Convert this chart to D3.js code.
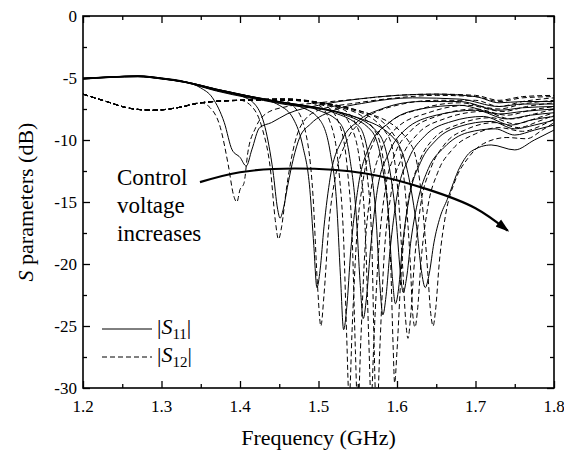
<!DOCTYPE html>
<html>
<head>
<meta charset="utf-8">
<script src="https://cdn.jsdelivr.net/npm/d3@7"></script>
</head>
<body style="margin:0; background:#fff">
<script>
const freq_ticks = [1.2, 1.3, 1.4, 1.5, 1.6, 1.7, 1.8];
const freq_minor = [1.25, 1.35, 1.45, 1.55, 1.65, 1.75];
const db_ticks = [-30, -25, -20, -15, -10, -5, 0];
const db_minor = [-27.5, -22.5, -17.5, -12.5, -7.5, -2.5];

// |S11| curves (solid), one per control voltage
const s11_curves = [
    [[1.20,-5.0],[1.24,-4.9],[1.27,-4.82],[1.30,-5.0],[1.33,-5.3],[1.35,-5.8],[1.365,-6.6],[1.38,-8.6],[1.39,-10.8],[1.40,-11.4],[1.408,-12.1],[1.415,-10.8],[1.425,-9.0],[1.44,-8.6],[1.46,-7.9],[1.50,-7.2],[1.55,-6.7],[1.60,-6.4],[1.65,-6.3],[1.70,-6.5],[1.73,-7.0],[1.76,-6.9],[1.80,-6.9]],
    [[1.20,-5.02],[1.24,-4.9],[1.27,-4.83],[1.30,-5.0],[1.33,-5.3],[1.37,-5.9],[1.40,-6.4],[1.42,-7.2],[1.432,-9.0],[1.442,-12.5],[1.448,-15.6],[1.451,-16.3],[1.455,-15.6],[1.461,-13.6],[1.468,-11.5],[1.476,-9.8],[1.49,-8.7],[1.52,-7.6],[1.56,-7.0],[1.62,-6.6],[1.68,-6.7],[1.73,-7.3],[1.76,-7.1],[1.80,-7.1]],
    [[1.20,-5.03],[1.27,-4.84],[1.30,-5.02],[1.33,-5.3],[1.37,-5.9],[1.42,-6.6],[1.45,-7.2],[1.468,-8.3],[1.48,-10.5],[1.489,-14.0],[1.494,-18.5],[1.498,-21.9],[1.502,-20.5],[1.507,-17.0],[1.515,-13.0],[1.53,-10.0],[1.55,-8.5],[1.58,-7.5],[1.63,-6.9],[1.68,-6.9],[1.73,-7.6],[1.76,-7.4],[1.80,-7.3]],
    [[1.20,-5.04],[1.27,-4.85],[1.30,-5.03],[1.33,-5.3],[1.37,-5.9],[1.43,-6.7],[1.48,-7.4],[1.503,-8.5],[1.515,-11.0],[1.523,-15.0],[1.528,-21.0],[1.532,-25.3],[1.536,-23.5],[1.541,-19.0],[1.55,-14.0],[1.565,-10.5],[1.59,-8.6],[1.63,-7.5],[1.68,-7.2],[1.73,-7.9],[1.76,-7.7],[1.80,-7.5]],
    [[1.20,-5.05],[1.27,-4.86],[1.30,-5.04],[1.33,-5.32],[1.37,-5.95],[1.44,-6.8],[1.50,-7.6],[1.528,-8.7],[1.54,-11.5],[1.548,-16.0],[1.553,-21.5],[1.557,-24.4],[1.561,-22.8],[1.566,-19.0],[1.575,-14.0],[1.59,-11.0],[1.61,-9.2],[1.65,-8.0],[1.70,-7.6],[1.74,-8.3],[1.77,-8.0],[1.80,-7.8]],
    [[1.20,-5.06],[1.27,-4.87],[1.30,-5.05],[1.33,-5.33],[1.37,-5.95],[1.45,-6.9],[1.52,-7.8],[1.553,-9.0],[1.565,-11.8],[1.573,-16.0],[1.578,-21.5],[1.582,-24.1],[1.586,-22.6],[1.591,-19.0],[1.60,-14.5],[1.615,-11.5],[1.635,-9.7],[1.67,-8.5],[1.71,-8.1],[1.745,-8.8],[1.77,-8.4],[1.80,-8.1]],
    [[1.20,-5.07],[1.27,-4.88],[1.30,-5.06],[1.33,-5.34],[1.37,-6.0],[1.45,-6.95],[1.53,-7.9],[1.568,-9.3],[1.581,-12.0],[1.589,-16.0],[1.594,-21.0],[1.598,-23.2],[1.602,-22.0],[1.607,-18.5],[1.616,-14.5],[1.63,-11.8],[1.65,-10.0],[1.68,-8.9],[1.72,-8.5],[1.75,-9.1],[1.775,-8.8],[1.80,-8.4]],
    [[1.20,-5.08],[1.27,-4.89],[1.30,-5.07],[1.33,-5.35],[1.37,-6.0],[1.45,-7.0],[1.54,-8.0],[1.578,-9.6],[1.591,-12.5],[1.599,-16.5],[1.604,-20.5],[1.608,-22.3],[1.612,-21.2],[1.618,-18.0],[1.627,-14.8],[1.64,-12.3],[1.66,-10.6],[1.69,-9.4],[1.725,-9.1],[1.75,-9.6],[1.775,-9.2],[1.80,-8.8]],
    [[1.20,-5.09],[1.27,-4.9],[1.30,-5.08],[1.33,-5.36],[1.37,-6.05],[1.45,-7.05],[1.55,-8.2],[1.598,-10.0],[1.615,-13.0],[1.625,-17.0],[1.631,-20.5],[1.636,-21.9],[1.641,-20.8],[1.647,-18.3],[1.655,-16.2],[1.664,-14.8],[1.68,-12.2],[1.695,-10.9],[1.72,-10.4],[1.75,-10.8],[1.775,-10.0],[1.80,-9.2]]
];

// |S12| curves (dashed)
const s12_curves = [
    [[1.20,-6.3],[1.23,-6.9],[1.26,-7.45],[1.29,-7.6],[1.32,-7.4],[1.35,-7.0],[1.362,-7.4],[1.375,-9.0],[1.385,-12.0],[1.392,-14.5],[1.396,-15.0],[1.40,-14.0],[1.405,-13.5],[1.41,-11.0],[1.42,-9.0],[1.435,-7.8],[1.46,-7.3],[1.50,-7.0],[1.55,-6.7],[1.60,-6.4],[1.65,-6.3],[1.70,-6.4],[1.73,-6.8],[1.76,-6.5],[1.80,-6.4]],
    [[1.20,-6.3],[1.23,-6.9],[1.26,-7.45],[1.29,-7.6],[1.32,-7.4],[1.35,-7.0],[1.40,-6.8],[1.415,-7.3],[1.428,-9.0],[1.439,-12.5],[1.445,-16.5],[1.449,-18.0],[1.453,-17.0],[1.459,-14.0],[1.467,-11.0],[1.478,-8.8],[1.50,-7.6],[1.55,-7.0],[1.60,-6.6],[1.65,-6.4],[1.70,-6.5],[1.73,-6.9],[1.76,-6.6],[1.80,-6.5]],
    [[1.20,-6.3],[1.23,-6.9],[1.26,-7.45],[1.29,-7.6],[1.32,-7.4],[1.35,-7.0],[1.40,-6.8],[1.45,-6.7],[1.47,-7.4],[1.484,-9.5],[1.493,-14.5],[1.499,-22.0],[1.503,-25.0],[1.507,-22.5],[1.513,-17.0],[1.522,-12.8],[1.535,-10.2],[1.555,-8.5],[1.60,-7.2],[1.65,-6.8],[1.70,-6.8],[1.73,-7.3],[1.76,-6.9],[1.80,-6.6]],
    [[1.20,-6.3],[1.23,-6.9],[1.26,-7.45],[1.29,-7.6],[1.32,-7.4],[1.35,-7.0],[1.40,-6.8],[1.46,-6.7],[1.50,-7.2],[1.515,-8.6],[1.526,-12.5],[1.532,-18.0],[1.536,-26.0],[1.539,-31.0],[1.543,-25.0],[1.548,-18.5],[1.557,-13.2],[1.57,-10.2],[1.59,-8.6],[1.63,-7.5],[1.68,-7.0],[1.73,-7.5],[1.76,-7.1],[1.80,-6.8]],
    [[1.20,-6.3],[1.23,-6.9],[1.26,-7.45],[1.29,-7.6],[1.32,-7.4],[1.35,-7.0],[1.40,-6.8],[1.46,-6.7],[1.51,-7.3],[1.527,-8.8],[1.537,-12.5],[1.543,-18.0],[1.547,-27.0],[1.550,-32.0],[1.554,-26.0],[1.559,-19.0],[1.567,-14.0],[1.58,-10.8],[1.60,-9.0],[1.64,-7.8],[1.69,-7.2],[1.735,-7.7],[1.765,-7.3],[1.80,-7.0]],
    [[1.20,-6.3],[1.23,-6.9],[1.26,-7.45],[1.29,-7.6],[1.32,-7.4],[1.35,-7.0],[1.40,-6.8],[1.46,-6.7],[1.52,-7.4],[1.542,-9.0],[1.554,-12.5],[1.560,-18.0],[1.564,-26.0],[1.567,-31.0],[1.571,-25.5],[1.576,-19.5],[1.585,-14.0],[1.597,-11.2],[1.617,-9.3],[1.65,-8.1],[1.70,-7.5],[1.74,-8.0],[1.77,-7.6],[1.80,-7.3]],
    [[1.20,-6.3],[1.23,-6.9],[1.26,-7.45],[1.29,-7.6],[1.32,-7.4],[1.35,-7.0],[1.40,-6.8],[1.46,-6.7],[1.53,-7.5],[1.551,-9.2],[1.562,-12.8],[1.568,-18.5],[1.571,-27.0],[1.574,-33.0],[1.578,-27.0],[1.583,-20.0],[1.592,-14.5],[1.605,-11.6],[1.625,-9.6],[1.66,-8.3],[1.71,-7.7],[1.745,-8.3],[1.775,-7.9],[1.80,-7.5]],
    [[1.20,-6.3],[1.23,-6.9],[1.26,-7.45],[1.29,-7.6],[1.32,-7.4],[1.35,-7.0],[1.40,-6.8],[1.46,-6.8],[1.54,-7.6],[1.574,-9.5],[1.586,-13.5],[1.592,-20.0],[1.595,-26.5],[1.597,-29.6],[1.600,-27.0],[1.605,-21.0],[1.613,-15.5],[1.627,-12.0],[1.645,-10.0],[1.68,-8.7],[1.72,-8.2],[1.75,-8.7],[1.78,-8.2],[1.80,-7.8]],
    [[1.20,-6.3],[1.23,-6.9],[1.26,-7.45],[1.29,-7.6],[1.32,-7.4],[1.35,-7.0],[1.40,-6.8],[1.46,-6.8],[1.55,-7.7],[1.589,-9.7],[1.601,-14.0],[1.607,-20.0],[1.611,-24.5],[1.614,-26.0],[1.617,-24.5],[1.622,-20.0],[1.63,-15.3],[1.643,-12.3],[1.66,-10.4],[1.69,-9.1],[1.725,-8.6],[1.755,-9.0],[1.78,-8.5],[1.80,-8.0]],
    [[1.20,-6.3],[1.23,-6.9],[1.26,-7.45],[1.29,-7.6],[1.32,-7.4],[1.35,-7.0],[1.40,-6.8],[1.46,-6.8],[1.56,-7.8],[1.60,-10.0],[1.611,-14.5],[1.617,-20.0],[1.620,-24.0],[1.623,-25.1],[1.626,-23.8],[1.631,-19.5],[1.639,-15.5],[1.652,-12.6],[1.67,-10.8],[1.70,-9.5],[1.73,-9.0],[1.76,-9.3],[1.785,-8.8],[1.80,-8.3]],
    [[1.20,-6.3],[1.23,-6.9],[1.26,-7.45],[1.29,-7.6],[1.32,-7.4],[1.35,-7.0],[1.40,-6.8],[1.46,-6.8],[1.57,-8.0],[1.619,-10.5],[1.632,-15.0],[1.639,-20.5],[1.643,-24.0],[1.646,-25.0],[1.649,-23.8],[1.654,-19.8],[1.662,-16.0],[1.674,-13.3],[1.69,-11.5],[1.71,-10.3],[1.74,-9.8],[1.765,-9.9],[1.785,-9.2],[1.80,-8.6]]
];

// curved arrow, in data units (GHz, dB)
const arrow_points = [[1.349,-13.4],[1.40,-12.6],[1.47,-12.3],[1.56,-12.7],[1.64,-14.0],[1.70,-15.5],[1.741,-17.3]];
const annotation_lines = ["Control", "voltage", "increases"];
const legend_items = [{sub: "11", dash: null}, {sub: "12", dash: "5,3"}];

function draw_chart()
{
    const margin = {top: 16, right: 10, bottom: 64, left: 83},
          width = 564 - margin.left - margin.right,
          height = 452 - margin.top - margin.bottom;

    const root = d3.select("body").append("svg")
        .attr("width", 564)
        .attr("height", 452);

    const svg = root.append("g")
        .attr("transform", `translate(${margin.left}, ${margin.top})`);

    const scale_x = d3.scaleLinear().domain([1.2, 1.8]).range([0, width]);
    const scale_y = d3.scaleLinear().domain([-30, 0]).range([height, 0]);

    svg.append("clipPath").attr("id", "plot_clip")
        .append("rect").attr("width", width).attr("height", height);

    const line = d3.line()
        .x(d => scale_x(d[0]))
        .y(d => scale_y(d[1]))
        .curve(d3.curveMonotoneX);

    const curves = svg.append("g").attr("clip-path", "url(#plot_clip)");

    curves.selectAll("path.s12")
        .data(s12_curves)
        .join("path")
        .attr("class", "s12")
        .attr("d", line)
        .attr("fill", "none")
        .attr("stroke", "#000")
        .attr("stroke-width", 1)
        .attr("stroke-dasharray", "5,3");

    curves.selectAll("path.s11")
        .data(s11_curves)
        .join("path")
        .attr("class", "s11")
        .attr("d", line)
        .attr("fill", "none")
        .attr("stroke", "#000")
        .attr("stroke-width", 1);

    // ticks only (labels are drawn as plain text below), all pointing inward on four sides
    const style_axis = g => {
        g.selectAll("line").attr("stroke", "#000").attr("stroke-width", 1.3);
        g.selectAll("text").remove();
        g.select(".domain").remove();
    };

    svg.append("g").attr("transform", `translate(0, ${height})`)
        .call(d3.axisBottom(scale_x).tickValues(freq_ticks).tickSizeInner(-7).tickSizeOuter(0))
        .call(style_axis);
    svg.append("g").attr("transform", `translate(0, ${height})`)
        .call(d3.axisBottom(scale_x).tickValues(freq_minor).tickSizeInner(-4).tickSizeOuter(0))
        .call(style_axis);
    svg.append("g")
        .call(d3.axisTop(scale_x).tickValues(freq_ticks).tickSizeInner(-7).tickSizeOuter(0))
        .call(style_axis);
    svg.append("g")
        .call(d3.axisTop(scale_x).tickValues(freq_minor).tickSizeInner(-4).tickSizeOuter(0))
        .call(style_axis);
    svg.append("g")
        .call(d3.axisLeft(scale_y).tickValues(db_ticks).tickSizeInner(-7).tickSizeOuter(0))
        .call(style_axis);
    svg.append("g")
        .call(d3.axisLeft(scale_y).tickValues(db_minor).tickSizeInner(-4).tickSizeOuter(0))
        .call(style_axis);
    svg.append("g").attr("transform", `translate(${width}, 0)`)
        .call(d3.axisRight(scale_y).tickValues(db_ticks).tickSizeInner(-7).tickSizeOuter(0))
        .call(style_axis);
    svg.append("g").attr("transform", `translate(${width}, 0)`)
        .call(d3.axisRight(scale_y).tickValues(db_minor).tickSizeInner(-4).tickSizeOuter(0))
        .call(style_axis);

    svg.append("rect")
        .attr("width", width)
        .attr("height", height)
        .attr("fill", "none")
        .attr("stroke", "#000")
        .attr("stroke-width", 1.6);

    // tick labels
    svg.selectAll("text.x_label")
        .data(freq_ticks)
        .join("text")
        .attr("class", "x_label")
        .attr("x", d => scale_x(d))
        .attr("y", height + 24)
        .style("font-family", d => `"Liberation Serif"`)
        .style("font-size", "17px")
        .style("text-anchor", "middle")
        .text(d => d.toFixed(1));

    svg.selectAll("text.y_label")
        .data(db_ticks)
        .join("text")
        .attr("class", "y_label")
        .attr("x", -6)
        .attr("y", d => scale_y(d) + 6)
        .style("font-family", d => `"Liberation Serif"`)
        .style("font-size", "17px")
        .style("text-anchor", "end")
        .text(d => d);

    // arrow
    svg.append("defs").append("marker")
        .attr("id", "arrow_head")
        .attr("markerUnits", "userSpaceOnUse")
        .attr("viewBox", "0 -5 14 10")
        .attr("refX", 12)
        .attr("refY", 0)
        .attr("markerWidth", 14)
        .attr("markerHeight", 10)
        .attr("orient", "auto")
        .append("path")
        .attr("d", "M0,-4.5L14,0L0,4.5Z")
        .attr("fill", "#000");

    svg.append("path")
        .datum(arrow_points)
        .attr("d", d3.line().x(d => scale_x(d[0])).y(d => scale_y(d[1])).curve(d3.curveCatmullRom))
        .attr("fill", "none")
        .attr("stroke", "#000")
        .attr("stroke-width", 2.2)
        .attr("marker-end", "url(#arrow_head)");

    svg.selectAll("text.note")
        .data(annotation_lines)
        .join("text")
        .attr("class", "note")
        .attr("x", 34)
        .attr("y", (d, i) => 169 + i * 28)
        .style("font-family", d => `"Liberation Serif"`)
        .style("font-size", "23px")
        .text(d => d);

    // legend
    legend_items.forEach((item, i) => {
        const ly = 313 + i * 28;
        svg.append("line")
            .attr("x1", 19).attr("x2", 69)
            .attr("y1", ly).attr("y2", ly)
            .attr("stroke", "#000")
            .attr("stroke-width", 1)
            .attr("stroke-dasharray", item.dash);
        const t = svg.append("text")
            .attr("x", 74)
            .attr("y", ly + 5)
            .style("font-family", `"Liberation Serif"`)
            .style("font-size", "22px");
        t.append("tspan").text("|");
        t.append("tspan").style("font-style", "italic").text("S");
        t.append("tspan").attr("dy", 5).style("font-size", "15px").text(item.sub);
        t.append("tspan").attr("dy", -5).text("|");
    });

    // axis titles
    svg.append("text")
        .attr("x", width / 2)
        .attr("y", height + 57)
        .style("text-anchor", "middle")
        .style("font-family", `"Liberation Serif"`)
        .style("font-size", "22px")
        .text("Frequency (GHz)");

    const y_title = svg.append("text")
        .attr("transform", `translate(-50, ${height / 2}) rotate(-90)`)
        .style("text-anchor", "middle")
        .style("font-family", `"Liberation Serif"`)
        .style("font-size", "22px");
    y_title.append("tspan").style("font-style", "italic").text("S");
    y_title.append("tspan").text(" parameters (dB)");
}
draw_chart();
</script>
</body>
</html>
